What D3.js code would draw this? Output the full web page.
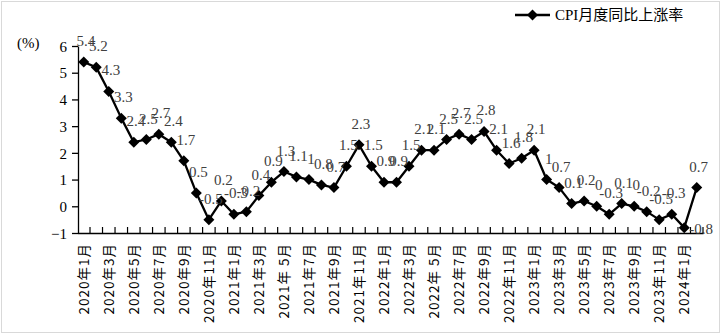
<!DOCTYPE html>
<html><head><meta charset="utf-8">
<script src="https://cdn.jsdelivr.net/npm/d3@7"></script>
<style>body{margin:0;background:#fff}svg{display:block}</style>
</head><body>
<svg id="c" width="721" height="335"></svg>
<script>
const months = [
"2020年1月","2020年2月","2020年3月","2020年4月","2020年5月","2020年6月","2020年7月","2020年8月","2020年9月","2020年10月","2020年11月","2020年12月",
"2021年1月","2021年2月","2021年3月","2021年4月","2021年 5月","2021年6月","2021年7月","2021年8月","2021年9月","2021年10月","2021年11月","2021年12月",
"2022年1月","2022年2月","2022年3月","2022年4月","2022年 5月","2022年6月","2022年7月","2022年8月","2022年9月","2022年10月","2022年11月","2022年12月",
"2023年1月","2023年2月","2023年3月","2023年4月","2023年5月","2023年6月","2023年7月","2023年8月","2023年9月","2023年10月","2023年11月","2023年12月",
"2024年1月","2024年2月"];
const cpi = [5.4,5.2,4.3,3.3,2.4,2.5,2.7,2.4,1.7,0.5,-0.5,0.2,
-0.3,-0.2,0.4,0.9,1.3,1.1,1.0,0.8,0.7,1.5,2.3,1.5,
0.9,0.9,1.5,2.1,2.1,2.5,2.7,2.5,2.8,2.1,1.6,1.8,
2.1,1.0,0.7,0.1,0.2,0.0,-0.3,0.1,0.0,-0.2,-0.5,-0.3,
-0.8,0.7];
const yTicks = [-1,0,1,2,3,4,5,6];
const seriesName = "CPI月度同比上涨率";
const unitLabel = "(%)";

const svg = d3.select("#c");
svg.append("rect").attr("x",1.5).attr("y",1.5).attr("width",718).attr("height",331)
  .attr("fill","#fff").attr("stroke","#d9d9d9").attr("stroke-width",1);

const x = d3.scaleBand().domain(months).range([77.5,703]).padding(0);
const y = d3.scaleLinear().domain([-1,6]).range([233,46]);
const cx = d => x(d) + x.bandwidth()/2;
const serif = "'Liberation Serif','Times New Roman',serif";
const cjk = "'Noto Sans CJK SC','Noto Sans',sans-serif";

// Y axis
const yAxis = svg.append("g").attr("transform","translate(78,0)")
  .call(d3.axisLeft(y).tickValues(yTicks).tickFormat(d3.format("d")).tickSize(6).tickSizeOuter(0).tickPadding(5));
yAxis.select(".domain").attr("stroke","#000").attr("stroke-width",1.3);
yAxis.selectAll(".tick line").attr("stroke","#000").attr("stroke-width",1.3);
yAxis.selectAll(".tick text").attr("font-family",serif).attr("font-size",15).attr("fill","#000").attr("dy","0.35em");

// X axis
const xAxis = svg.append("g").attr("transform","translate(0,233)")
  .call(d3.axisBottom(x).tickSize(0).tickFormat((d,i)=> i%2===0 ? d : ""));
xAxis.select(".domain").attr("stroke","#000").attr("stroke-width",1.3);
xAxis.selectAll(".tick text")
  .attr("font-family",cjk).attr("font-size",13.5).attr("fill","#000")
  .attr("letter-spacing","1px")
  .attr("transform","rotate(-90)").attr("text-anchor","end")
  .attr("x",-10).attr("y",0).attr("dy","0.36em");
// tick marks between categories (upward)
const bounds = months.map(m => x(m)).concat([x(months[months.length-1]) + x.bandwidth()]);
svg.append("g").selectAll("line").data(bounds.slice(1)).join("line")
  .attr("x1",d=>d).attr("x2",d=>d).attr("y1",233).attr("y2",227)
  .attr("stroke","#000").attr("stroke-width",1.2);

// Line
const line = d3.line().x((d,i)=>cx(months[i])).y(d=>y(d));
svg.append("path").datum(cpi).attr("d",line).attr("fill","none")
  .attr("stroke","#000").attr("stroke-width",2.3).attr("stroke-linejoin","round");

const diamond = "M0,-5.5L5.5,0L0,5.5L-5.5,0Z";
svg.append("g").selectAll("path").data(cpi).join("path")
  .attr("d",diamond).attr("transform",(d,i)=>`translate(${cx(months[i])},${y(d)})`).attr("fill","#000");

// Data labels
svg.append("g").selectAll("text").data(cpi).join("text")
  .attr("x",(d,i)=> i===48 ? cx(months[i])+5 : cx(months[i])+2)
  .attr("y",(d,i)=> i===48 ? y(d)+1 : y(d)-16)
  .attr("dy", (d,i)=> i===48 ? "0.35em" : 0)
  .attr("text-anchor",(d,i)=> i===48 ? "start" : "middle")
  .attr("font-family",serif).attr("font-size",15).attr("fill","#404040")
  .text(d=>String(d));

// Unit label
svg.append("text").attr("x",17).attr("y",48).attr("font-family",serif).attr("font-size",15)
  .attr("fill","#000").text(unitLabel);

// Legend
const lg = svg.append("g");
lg.append("line").attr("x1",515).attr("x2",550).attr("y1",15).attr("y2",15).attr("stroke","#000").attr("stroke-width",2.3);
lg.append("path").attr("d",diamond).attr("transform","translate(532.5,15)").attr("fill","#000");
lg.append("text").attr("x",555).attr("y",15).attr("dy","0.35em").attr("font-family",serif+","+cjk)
  .attr("font-size",15).attr("fill","#000").text(seriesName);
</script>
</body></html>
